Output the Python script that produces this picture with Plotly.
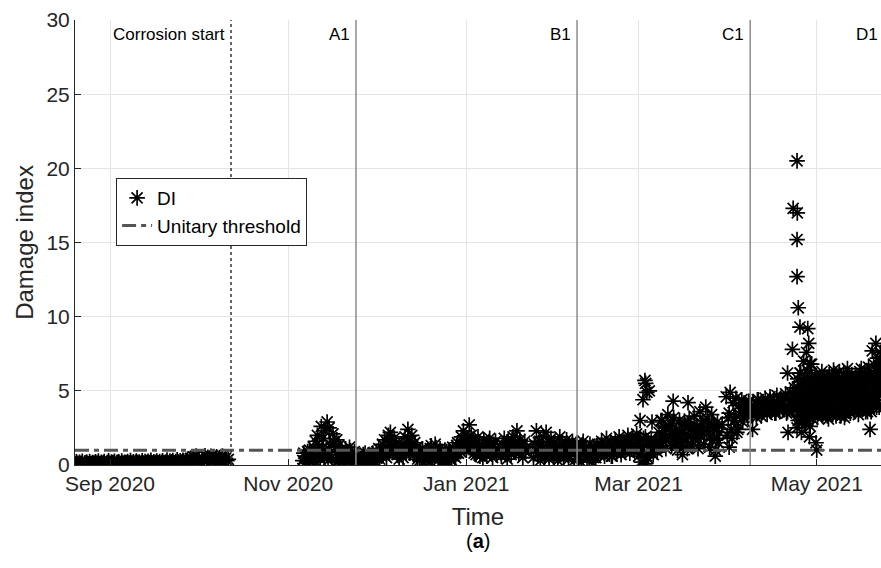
import pandas as pd
import plotly.graph_objects as go

# ---------------- data ----------------
seg1_start = "2020-08-20 00:00"; seg1_step = "12h"
seg1_values = [0.10,0.22,0.05,0.18,0.12,0.25,0.02,0.15,0.20,0.08,
               0.24,0.10,0.17,0.04,0.21,0.13,0.26,0.07,0.19,0.11,
               0.23,0.06,0.16,0.28,0.09,0.20,0.14,0.25,0.05,0.18,
               0.22,0.10,0.27,0.12,0.19,0.08,0.24,0.15,0.30,0.11,
               0.21,0.07,0.26,0.16,0.20,0.10,0.28,0.13,0.23,0.09,
               0.25,0.17,0.31,0.12,0.22,0.08,0.27,0.15,0.24,0.11,
               0.29,0.14,0.20,0.33,0.10,0.26,0.18,0.30,0.13,0.24,
               0.35,0.16,0.28,0.12,0.32,0.19,0.26,0.38,
               0.20,0.45,0.30,0.55,0.25,0.60,0.35,0.50,0.18,0.48,
               0.32,0.62,0.28,0.52,0.40,0.58,0.22,0.46,0.36,0.55,
               0.26,0.50,0.34,0.60,0.20,0.44,0.30,0.38]

seg2_start = "2020-11-06 00:00"; seg2_step = "8h"
seg2_values = [0.3,0.8,0.1, 0.6,0.2,0.9, 0.4,1.0,0.2, 0.7,0.3,1.2,
               0.5,1.6,0.2, 2.0,0.8,1.3, 0.4,2.6,1.1, 1.8,0.6,2.3,
               1.0,2.9,0.3, 2.5,1.4,0.7, 0.5,2.1,1.6, 1.2,0.2,1.7,
               0.9,1.3,0.4, 0.2,1.0,0.6, 0.8,0.1,1.1, 0.4,0.9,0.2,
               1.2,0.5,0.1, 0.7,0.3,0.9]

seg3_start = "2020-11-25 00:00"; seg3_step = "8h"
seg3_values = [0.2,0.6,0.0, 0.4,0.1,0.7, 0.3,0.8,0.1, 0.5,0.2,0.7,
               0.1,0.6,0.4, 0.8,0.3,0.5, 0.2,0.9,0.6, 1.1,0.4,0.8,
               0.6,1.4,1.0, 1.7,0.9,0.5, 1.2,2.0,0.8, 2.2,1.5,1.0,
               0.9,1.8,1.3, 1.5,0.7,1.1, 0.4,1.0,0.7, 1.3,0.5,0.9,
               1.9,1.0,1.5, 2.4,1.2,0.8, 1.6,2.0,1.0, 0.7,1.5,1.1,
               1.2,0.4,0.8, 0.3,0.9,0.6, 1.1,0.2,0.7, 0.5,0.9,0.3,
               0.8,0.2,1.1, 1.3,0.6,0.9, 0.4,1.4,1.0, 0.9,0.3,0.6,
               1.1,0.5,0.2, 0.7,0.3,1.0, 0.5,0.9,0.2, 1.0,0.4,0.7,
               0.3,1.2,0.8, 0.9,0.5,1.3, 1.5,0.8,1.1, 0.9,1.9,1.4,
               2.3,1.2,1.6, 1.0,1.8,1.4, 2.7,1.3,2.0, 1.1,1.7,0.8,
               1.5,0.7,1.2, 1.9,1.0,0.6, 0.8,1.4,0.5, 1.7,0.9,1.3,
               0.6,1.5,1.0, 1.8,0.8,1.2, 0.5,1.4,1.0, 1.6,0.7,1.1]

seg4_start = "2021-01-13 00:00"; seg4_step = "8h"
seg4_values = [0.6,1.4,1.0, 1.8,0.7,1.2, 0.4,1.6,1.1, 1.2,0.7,1.7,
               1.9,0.9,1.4, 1.0,2.3,1.5, 0.8,1.7,1.2, 1.3,0.5,1.0,
               1.6,0.9,1.2]

seg5_start = "2021-01-24 00:00"; seg5_step = "8h"
seg5_values = [0.5,1.4,1.0, 2.3,0.8,1.5, 1.6,0.3,1.1, 1.1,1.9,0.6,
               0.6,2.2,1.4, 1.3,0.4,1.0, 1.8,0.9,1.4, 0.5,1.5,1.1,
               1.2,0.3,0.8, 1.9,0.7,1.4, 1.4,0.5,1.0, 0.9,1.7,1.3,
               0.4,1.2,0.8, 0.8,1.6,1.1, 0.3,1.0,1.4, 1.5,0.6,1.0,
               0.9,0.2,1.3, 1.6,0.7,1.1, 1.2,0.4,0.8, 0.6,1.4,1.0,
               0.2,0.9,0.5, 1.0,0.5,1.3, 1.4,0.7,1.0, 0.8,1.6,1.2,
               1.2,0.6,0.9, 1.8,0.9,1.3, 1.0,1.5,0.6, 0.6,1.3,0.9,
               1.7,0.8,1.2, 1.1,1.9,1.5, 0.7,1.4,1.0, 1.6,0.9,1.3,
               1.2,2.0,1.5, 0.8,1.5,1.1, 1.9,1.0,1.4, 1.3,2.1,0.9,
               0.6,1.7,1.2, 0.2,1.2,1.8, 0.0,1.9,0.6, 0.5,1.4,1.0,
               1.0,1.8,1.3, 0.7,1.3,1.6, 1.5,0.9,1.2, 2.2,1.2,1.7,
               3.0,1.6,2.3, 2.5,1.1,1.8, 3.4,1.9,2.6, 2.8,1.3,2.1,
               3.2,2.0,1.5, 2.4,1.0,1.7, 3.0,1.5,2.2, 2.1,1.2,2.8,
               2.7,1.6,1.1, 1.9,3.1,2.4, 2.4,1.3,1.8, 3.3,1.8,2.5,
               2.6,1.1,2.0, 3.6,2.0,2.8, 3.0,1.4,2.3, 3.9,2.3,3.1,
               2.8,1.2,2.0, 3.4,1.7,2.6, 2.5,1.0,1.8, 2.9,1.5,2.2]

seg6_start = "2021-03-31 00:00"; seg6_step = "8h"
seg6_values = [4.6,2.0,3.2, 3.5,4.9,2.4, 1.8,4.2,3.0, 3.0,4.5,2.2,
               2.4,4.0,3.4, 3.6,4.4,2.9, 3.2,4.1,3.7, 3.8,3.3,4.3,
               4.3,3.5,3.9, 3.4,4.0,3.7, 3.9,3.2,4.4, 4.4,3.6,4.0,
               3.3,4.1,3.7, 3.7,4.5,4.1, 3.4,4.2,3.8, 4.6,3.6,4.1,
               3.8,4.3,3.5, 3.5,4.7,4.1, 4.0,3.6,4.4, 4.4,3.7,4.1,
               3.9,4.8,3.5, 3.6,4.5,4.1, 4.9,4.0,4.4, 3.7,5.2,4.3]

seg7_start = "2021-04-24 00:00"; seg7_step = "6h"
seg7_values = [4.5,2.5,5.8,3.4, 3.0,6.2,4.2,2.2, 5.0,3.6,7.0,4.6,
               2.8,5.5,3.9,6.4, 4.8,3.2,5.9,2.6, 3.8,6.8,4.4,5.2,
               3.4,5.6,4.0,6.0, 4.6,3.2,5.4,3.9, 5.8,4.2,3.5,6.3,
               3.3,5.0,4.4,6.0, 4.8,3.6,5.6,4.1, 3.1,6.1,4.5,5.2,
               4.0,5.7,3.4,6.4, 5.1,3.8,4.7,6.0, 3.5,5.5,4.2,6.3,
               4.9,3.3,5.8,4.4, 3.9,6.2,3.2,5.3, 5.6,4.3,6.5,3.7,
               4.1,5.9,3.5,5.0, 6.1,4.6,3.9,5.4, 3.6,5.2,6.0,4.3,
               4.8,3.4,5.7,6.3, 4.0,6.5,3.8,5.1, 5.5,4.2,6.1,3.6,
               4.6,5.9,4.0,6.6, 3.8,5.3,6.2,4.5, 5.7,4.1,6.8,5.0,
               4.4,6.3,3.9,7.2, 5.2,6.6,4.7,7.6, 5.9,4.8,7.0,6.2]

seg8_start = "2021-04-24 03:00"; seg8_step = "6h"
seg8_values = [3.8,5.2,3.0,4.9, 5.6,3.4,4.8,2.9, 4.1,5.4,3.3,5.9,
               4.4,3.1,5.0,4.0, 3.7,5.3,4.5,3.5, 5.8,4.1,3.1,4.7,
               5.1,4.3,3.7,5.0, 3.9,5.9,4.5,3.6, 4.9,3.9,5.5,4.6,
               5.4,3.8,5.2,3.5, 4.2,5.3,3.3,4.9, 5.6,3.9,5.0,4.2,
               3.7,4.9,5.4,4.5, 4.4,5.6,3.3,5.0, 4.8,3.9,5.9,4.6,
               3.6,5.1,4.2,5.6, 4.7,3.5,5.1,4.1, 3.9,5.0,4.6,5.9,
               5.4,3.8,4.7,6.0, 4.3,5.0,4.9,3.7, 5.7,4.0,5.3,4.8,
               3.9,5.2,4.5,6.0, 5.3,4.4,5.6,3.9, 4.6,5.0,3.9,5.8,
               5.2,3.6,5.6,4.2, 4.9,6.0,3.6,5.6, 4.3,5.5,4.6,6.0,
               5.6,4.1,5.8,4.9, 6.0,3.9,5.6,6.4, 6.5,5.4,6.9,5.3]

outlier_times = ["2021-03-01 12:00","2021-03-02 12:00","2021-03-03 04:00","2021-03-03 10:00",
                 "2021-03-03 20:00","2021-03-04 16:00","2021-03-03 12:00","2021-03-05 14:00",
                 "2021-03-08 16:00","2021-03-12 20:00","2021-03-17 22:00","2021-03-16 00:00",
                 "2021-03-27 06:00","2021-03-29 14:00","2021-04-01 00:00","2021-04-09 00:00",
                 "2021-04-22 22:00","2021-04-24 06:00","2021-04-24 08:00","2021-04-24 06:00",
                 "2021-04-24 06:00","2021-04-24 16:00","2021-04-25 06:00","2021-04-27 22:00",
                 "2021-04-22 16:00","2021-04-28 06:00","2021-04-27 12:00","2021-04-21 00:00",
                 "2021-04-25 12:00","2021-04-29 20:00","2021-04-28 18:00","2021-04-21 04:00",
                 "2021-04-28 12:00","2021-04-30 18:00","2021-05-01 00:00","2021-05-19 06:00",
                 "2021-05-21 06:00","2021-05-20 00:00"]
outlier_values = [3.0,4.4,5.7,5.5,
                  4.9,5.0,0.1,2.9,
                  3.0,4.3,4.2,0.7,
                  0.6,2.7,1.2,2.4,
                  17.3,20.5,17.0,15.2,
                  12.7,10.6,9.3,9.2,
                  7.8,8.2,7.6,6.2,
                  6.2,5.4,6.8,2.2,
                  1.9,1.5,1.0,2.4,
                  8.2,7.7]

threshold = 1.0
event_names = ["Corrosion start", "A1", "B1", "C1"]
event_dates = ["2020-10-12 10:00", "2020-11-24 05:00", "2021-02-07 22:00", "2021-04-08 05:00"]
end_label = "D1"
x_range = ["2020-08-20", "2021-05-23"]
y_ticks = [0, 5, 10, 15, 20, 25, 30]
x_tick_dates = ["2020-09-01", "2020-11-01", "2021-01-01", "2021-03-01", "2021-05-01"]
x_tick_labels = ["Sep 2020", "Nov 2020", "Jan 2021", "Mar 2021", "May 2021"]

# ---------------- assemble ----------------
segments = [(seg1_start, seg1_step, seg1_values), (seg2_start, seg2_step, seg2_values),
            (seg3_start, seg3_step, seg3_values), (seg4_start, seg4_step, seg4_values),
            (seg5_start, seg5_step, seg5_values), (seg6_start, seg6_step, seg6_values),
            (seg7_start, seg7_step, seg7_values), (seg8_start, seg8_step, seg8_values)]
xs, ys = [], []
for start, step, vals in segments:
    xs.extend(pd.date_range(start, periods=len(vals), freq=step))
    ys.extend(vals)
xs.extend(pd.to_datetime(outlier_times))
ys.extend(outlier_values)

FONT = "Liberation Sans, Arial, Helvetica, sans-serif"
TXT = "#262626"

fig = go.Figure()
fig.add_trace(go.Scatter(
    x=xs, y=ys, mode="markers", name="DI",
    marker=dict(symbol="asterisk-open", size=13, color="black",
                line=dict(color="black", width=1.7)),
))
fig.add_trace(go.Scatter(
    x=x_range, y=[threshold, threshold], mode="lines", name="Unitary threshold",
    line=dict(color="#555555", width=3, dash="14px,5px,5px,5px"),
))

shapes = []
for i, (name, d) in enumerate(zip(event_names, event_dates)):
    shapes.append(dict(type="line", xref="x", yref="paper", x0=d, x1=d, y0=0, y1=1,
                       line=dict(color="#333333" if i == 0 else "#8c8c8c",
                                 width=1.5,
                                 dash="dot" if i == 0 else "solid"),
                       layer="above"))
fig.update_layout(shapes=shapes)

for name, d in zip(event_names, event_dates):
    fig.add_annotation(x=d, xref="x", y=1, yref="paper", text=name, showarrow=False,
                       xanchor="right", yanchor="top", xshift=-4, yshift=-3,
                       font=dict(family=FONT, size=17, color="black"))
fig.add_annotation(x=1, xref="paper", y=1, yref="paper", text=end_label, showarrow=False,
                   xanchor="right", yanchor="top", xshift=-1, yshift=-3,
                   font=dict(family=FONT, size=17, color="black"))
fig.add_annotation(x=0.5, xref="paper", y=-0.171, yref="paper", text="(<b>a</b>)",
                   showarrow=False, xanchor="center", yanchor="middle",
                   font=dict(family=FONT, size=20, color="black"))

fig.update_layout(
    width=881, height=568,
    margin=dict(l=75, r=0, t=20, b=103),
    paper_bgcolor="white", plot_bgcolor="white",
    font=dict(family=FONT, size=21, color=TXT),
    showlegend=True,
    legend=dict(x=0.051, y=0.645, xanchor="left", yanchor="top",
                bgcolor="white", bordercolor="#262626", borderwidth=1,
                font=dict(family=FONT, size=19, color="black"),
                tracegroupgap=0, itemwidth=30),
    xaxis=dict(range=x_range, tickvals=x_tick_dates, ticktext=x_tick_labels,
               showgrid=True, gridcolor="#e5e5e5", gridwidth=1,
               showline=True, linecolor="#262626", linewidth=1,
               ticks="inside", ticklen=6, tickcolor="#262626",
               tickfont=dict(size=21, color=TXT),
               title=dict(text="Time", font=dict(size=24, color=TXT), standoff=13),
               zeroline=False),
    yaxis=dict(range=[0, 30], tickvals=y_ticks,
               showgrid=True, gridcolor="#e5e5e5", gridwidth=1,
               showline=True, linecolor="#262626", linewidth=1,
               ticks="inside", ticklen=6, tickcolor="#262626",
               tickfont=dict(size=21, color=TXT),
               title=dict(text="Damage index", font=dict(size=24, color=TXT), standoff=6),
               zeroline=False),
)

fig.write_html("out.html")
